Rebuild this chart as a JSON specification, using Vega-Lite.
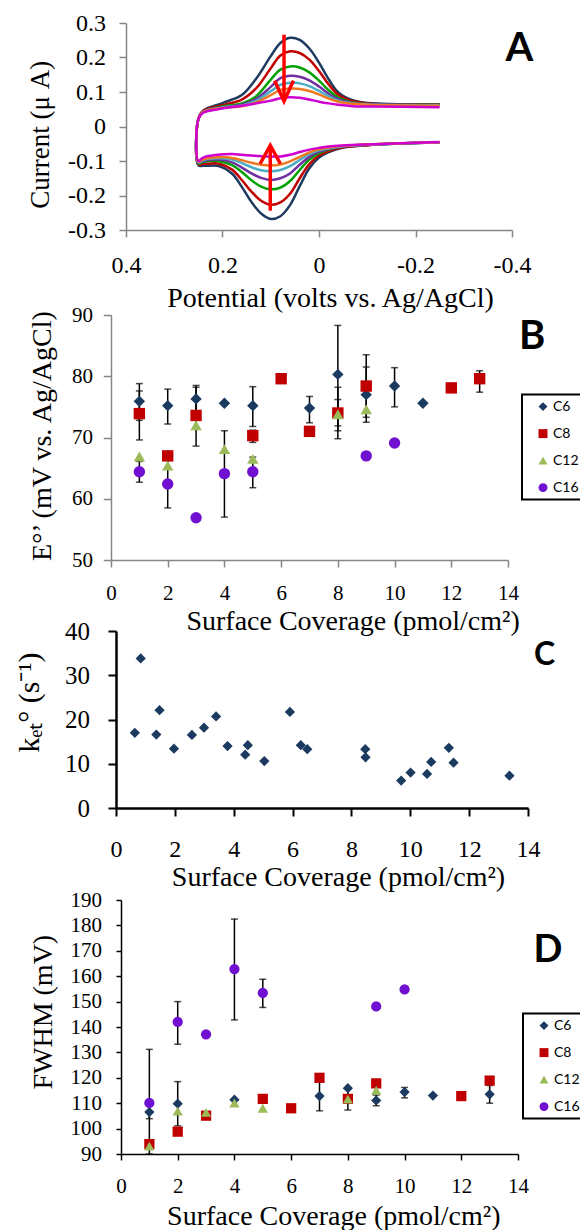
{
"$schema": "https://vega.github.io/schema/vega-lite/v6.json",
"background": "white",
"padding": {"left": 14, "top": 11, "right": 0, "bottom": 0},
"spacing": 71,
"bounds": "flush",
"config": {
  "view": {"stroke": null},
  "axis": {"grid": false, "labelFont": "Liberation Serif", "titleFont": "Liberation Serif", "labelColor": "#000", "titleColor": "#000", "titleFontWeight": "normal", "labelFlush": false, "labelOverlap": false, "titleBaseline": "middle", "titlePadding": 0},
  "legend": {"labelFont": "Lato", "labelFontSize": 14, "labelColor": "#000", "strokeColor": "#000", "strokeWidth": 2, "padding": 5, "rowPadding": 13, "symbolSize": 80, "symbolOffset": 9, "labelOffset": 3, "symbolStrokeWidth": 0}
},
"resolve": {"scale": {"x": "independent", "y": "independent", "color": "independent", "shape": "independent"}, "legend": {"color": "independent", "shape": "independent"}},
"datasets": {
"cv": [
{"c":"c1","o":1,"E":-0.25,"i":0.064},{"c":"c1","o":2,"E":-0.1,"i":0.068},{"c":"c1","o":3,"E":-0.07,"i":0.076},{"c":"c1","o":4,"E":-0.04,"i":0.099},{"c":"c1","o":5,"E":-0.02,"i":0.137},{"c":"c1","o":6,"E":0,"i":0.185},{"c":"c1","o":7,"E":0.02,"i":0.226},{"c":"c1","o":8,"E":0.04,"i":0.251},{"c":"c1","o":9,"E":0.06,"i":0.257},{"c":"c1","o":10,"E":0.08,"i":0.242},{"c":"c1","o":11,"E":0.1,"i":0.204},{"c":"c1","o":12,"E":0.13,"i":0.139},{"c":"c1","o":13,"E":0.16,"i":0.091},{"c":"c1","o":14,"E":0.2,"i":0.068},{"c":"c1","o":15,"E":0.24,"i":0.046},{"c":"c1","o":16,"E":0.25,"i":0.022},
{"c":"c1","o":17,"E":0.25,"i":-0.112},{"c":"c1","o":18,"E":0.24,"i":-0.114},{"c":"c1","o":19,"E":0.21,"i":-0.114},{"c":"c1","o":20,"E":0.18,"i":-0.137},{"c":"c1","o":21,"E":0.16,"i":-0.175},{"c":"c1","o":22,"E":0.14,"i":-0.219},{"c":"c1","o":23,"E":0.12,"i":-0.252},{"c":"c1","o":24,"E":0.1,"i":-0.268},{"c":"c1","o":25,"E":0.08,"i":-0.26},{"c":"c1","o":26,"E":0.06,"i":-0.228},{"c":"c1","o":27,"E":0.04,"i":-0.173},{"c":"c1","o":28,"E":0.02,"i":-0.121},{"c":"c1","o":29,"E":0,"i":-0.09},{"c":"c1","o":30,"E":-0.02,"i":-0.074},{"c":"c1","o":31,"E":-0.05,"i":-0.061},{"c":"c1","o":32,"E":-0.1,"i":-0.054},{"c":"c1","o":33,"E":-0.25,"i":-0.046},
{"c":"c2","o":1,"E":-0.25,"i":0.064},{"c":"c2","o":2,"E":-0.1,"i":0.067},{"c":"c2","o":3,"E":-0.07,"i":0.073},{"c":"c2","o":4,"E":-0.04,"i":0.092},{"c":"c2","o":5,"E":-0.02,"i":0.122},{"c":"c2","o":6,"E":0,"i":0.161},{"c":"c2","o":7,"E":0.02,"i":0.194},{"c":"c2","o":8,"E":0.04,"i":0.213},{"c":"c2","o":9,"E":0.06,"i":0.218},{"c":"c2","o":10,"E":0.08,"i":0.206},{"c":"c2","o":11,"E":0.1,"i":0.169},{"c":"c2","o":12,"E":0.13,"i":0.111},{"c":"c2","o":13,"E":0.16,"i":0.078},{"c":"c2","o":14,"E":0.2,"i":0.062},{"c":"c2","o":15,"E":0.24,"i":0.045},{"c":"c2","o":16,"E":0.25,"i":0.022},
{"c":"c2","o":17,"E":0.25,"i":-0.11},{"c":"c2","o":18,"E":0.24,"i":-0.109},{"c":"c2","o":19,"E":0.21,"i":-0.107},{"c":"c2","o":20,"E":0.18,"i":-0.125},{"c":"c2","o":21,"E":0.16,"i":-0.155},{"c":"c2","o":22,"E":0.14,"i":-0.189},{"c":"c2","o":23,"E":0.12,"i":-0.215},{"c":"c2","o":24,"E":0.1,"i":-0.227},{"c":"c2","o":25,"E":0.08,"i":-0.22},{"c":"c2","o":26,"E":0.06,"i":-0.195},{"c":"c2","o":27,"E":0.04,"i":-0.15},{"c":"c2","o":28,"E":0.02,"i":-0.109},{"c":"c2","o":29,"E":0,"i":-0.084},{"c":"c2","o":30,"E":-0.02,"i":-0.071},{"c":"c2","o":31,"E":-0.05,"i":-0.06},{"c":"c2","o":32,"E":-0.1,"i":-0.054},{"c":"c2","o":33,"E":-0.25,"i":-0.046},
{"c":"c3","o":1,"E":-0.25,"i":0.063},{"c":"c3","o":2,"E":-0.1,"i":0.065},{"c":"c3","o":3,"E":-0.07,"i":0.07},{"c":"c3","o":4,"E":-0.04,"i":0.084},{"c":"c3","o":5,"E":-0.02,"i":0.105},{"c":"c3","o":6,"E":0,"i":0.133},{"c":"c3","o":7,"E":0.02,"i":0.157},{"c":"c3","o":8,"E":0.04,"i":0.171},{"c":"c3","o":9,"E":0.06,"i":0.174},{"c":"c3","o":10,"E":0.08,"i":0.165},{"c":"c3","o":11,"E":0.1,"i":0.136},{"c":"c3","o":12,"E":0.13,"i":0.088},{"c":"c3","o":13,"E":0.16,"i":0.067},{"c":"c3","o":14,"E":0.2,"i":0.058},{"c":"c3","o":15,"E":0.24,"i":0.043},{"c":"c3","o":16,"E":0.25,"i":0.022},
{"c":"c3","o":17,"E":0.25,"i":-0.108},{"c":"c3","o":18,"E":0.24,"i":-0.103},{"c":"c3","o":19,"E":0.21,"i":-0.1},{"c":"c3","o":20,"E":0.18,"i":-0.112},{"c":"c3","o":21,"E":0.16,"i":-0.132},{"c":"c3","o":22,"E":0.14,"i":-0.156},{"c":"c3","o":23,"E":0.12,"i":-0.174},{"c":"c3","o":24,"E":0.1,"i":-0.182},{"c":"c3","o":25,"E":0.08,"i":-0.177},{"c":"c3","o":26,"E":0.06,"i":-0.158},{"c":"c3","o":27,"E":0.04,"i":-0.126},{"c":"c3","o":28,"E":0.02,"i":-0.096},{"c":"c3","o":29,"E":0,"i":-0.077},{"c":"c3","o":30,"E":-0.02,"i":-0.067},{"c":"c3","o":31,"E":-0.05,"i":-0.058},{"c":"c3","o":32,"E":-0.1,"i":-0.053},{"c":"c3","o":33,"E":-0.25,"i":-0.046},
{"c":"c4","o":1,"E":-0.25,"i":0.062},{"c":"c4","o":2,"E":-0.1,"i":0.065},{"c":"c4","o":3,"E":-0.07,"i":0.068},{"c":"c4","o":4,"E":-0.04,"i":0.079},{"c":"c4","o":5,"E":-0.02,"i":0.095},{"c":"c4","o":6,"E":0,"i":0.116},{"c":"c4","o":7,"E":0.02,"i":0.134},{"c":"c4","o":8,"E":0.04,"i":0.144},{"c":"c4","o":9,"E":0.06,"i":0.147},{"c":"c4","o":10,"E":0.08,"i":0.14},{"c":"c4","o":11,"E":0.1,"i":0.115},{"c":"c4","o":12,"E":0.13,"i":0.08},{"c":"c4","o":13,"E":0.16,"i":0.063},{"c":"c4","o":14,"E":0.2,"i":0.056},{"c":"c4","o":15,"E":0.24,"i":0.043},{"c":"c4","o":16,"E":0.25,"i":0.022},
{"c":"c4","o":17,"E":0.25,"i":-0.106},{"c":"c4","o":18,"E":0.24,"i":-0.1},{"c":"c4","o":19,"E":0.21,"i":-0.096},{"c":"c4","o":20,"E":0.18,"i":-0.104},{"c":"c4","o":21,"E":0.16,"i":-0.119},{"c":"c4","o":22,"E":0.14,"i":-0.136},{"c":"c4","o":23,"E":0.12,"i":-0.149},{"c":"c4","o":24,"E":0.1,"i":-0.155},{"c":"c4","o":25,"E":0.08,"i":-0.15},{"c":"c4","o":26,"E":0.06,"i":-0.136},{"c":"c4","o":27,"E":0.04,"i":-0.111},{"c":"c4","o":28,"E":0.02,"i":-0.088},{"c":"c4","o":29,"E":0,"i":-0.073},{"c":"c4","o":30,"E":-0.02,"i":-0.065},{"c":"c4","o":31,"E":-0.05,"i":-0.058},{"c":"c4","o":32,"E":-0.1,"i":-0.053},{"c":"c4","o":33,"E":-0.25,"i":-0.046},
{"c":"c5","o":1,"E":-0.25,"i":0.061},{"c":"c5","o":2,"E":-0.1,"i":0.064},{"c":"c5","o":3,"E":-0.07,"i":0.067},{"c":"c5","o":4,"E":-0.04,"i":0.075},{"c":"c5","o":5,"E":-0.02,"i":0.088},{"c":"c5","o":6,"E":0,"i":0.103},{"c":"c5","o":7,"E":0.02,"i":0.117},{"c":"c5","o":8,"E":0.04,"i":0.125},{"c":"c5","o":9,"E":0.06,"i":0.127},{"c":"c5","o":10,"E":0.08,"i":0.121},{"c":"c5","o":11,"E":0.1,"i":0.102},{"c":"c5","o":12,"E":0.13,"i":0.075},{"c":"c5","o":13,"E":0.16,"i":0.061},{"c":"c5","o":14,"E":0.2,"i":0.055},{"c":"c5","o":15,"E":0.24,"i":0.042},{"c":"c5","o":16,"E":0.25,"i":0.022},
{"c":"c5","o":17,"E":0.25,"i":-0.104},{"c":"c5","o":18,"E":0.24,"i":-0.097},{"c":"c5","o":19,"E":0.21,"i":-0.092},{"c":"c5","o":20,"E":0.18,"i":-0.096},{"c":"c5","o":21,"E":0.16,"i":-0.106},{"c":"c5","o":22,"E":0.14,"i":-0.118},{"c":"c5","o":23,"E":0.12,"i":-0.127},{"c":"c5","o":24,"E":0.1,"i":-0.13},{"c":"c5","o":25,"E":0.08,"i":-0.126},{"c":"c5","o":26,"E":0.06,"i":-0.115},{"c":"c5","o":27,"E":0.04,"i":-0.097},{"c":"c5","o":28,"E":0.02,"i":-0.08},{"c":"c5","o":29,"E":0,"i":-0.069},{"c":"c5","o":30,"E":-0.02,"i":-0.063},{"c":"c5","o":31,"E":-0.05,"i":-0.057},{"c":"c5","o":32,"E":-0.1,"i":-0.053},{"c":"c5","o":33,"E":-0.25,"i":-0.046},
{"c":"c6","o":1,"E":-0.25,"i":0.06},{"c":"c6","o":2,"E":-0.1,"i":0.063},{"c":"c6","o":3,"E":-0.07,"i":0.066},{"c":"c6","o":4,"E":-0.04,"i":0.072},{"c":"c6","o":5,"E":-0.02,"i":0.081},{"c":"c6","o":6,"E":0,"i":0.093},{"c":"c6","o":7,"E":0.02,"i":0.103},{"c":"c6","o":8,"E":0.04,"i":0.109},{"c":"c6","o":9,"E":0.06,"i":0.11},{"c":"c6","o":10,"E":0.08,"i":0.106},{"c":"c6","o":11,"E":0.1,"i":0.091},{"c":"c6","o":12,"E":0.13,"i":0.07},{"c":"c6","o":13,"E":0.16,"i":0.059},{"c":"c6","o":14,"E":0.2,"i":0.054},{"c":"c6","o":15,"E":0.24,"i":0.042},{"c":"c6","o":16,"E":0.25,"i":0.022},
{"c":"c6","o":17,"E":0.25,"i":-0.102},{"c":"c6","o":18,"E":0.24,"i":-0.095},{"c":"c6","o":19,"E":0.21,"i":-0.089},{"c":"c6","o":20,"E":0.18,"i":-0.091},{"c":"c6","o":21,"E":0.16,"i":-0.098},{"c":"c6","o":22,"E":0.14,"i":-0.105},{"c":"c6","o":23,"E":0.12,"i":-0.111},{"c":"c6","o":24,"E":0.1,"i":-0.113},{"c":"c6","o":25,"E":0.08,"i":-0.11},{"c":"c6","o":26,"E":0.06,"i":-0.101},{"c":"c6","o":27,"E":0.04,"i":-0.088},{"c":"c6","o":28,"E":0.02,"i":-0.075},{"c":"c6","o":29,"E":0,"i":-0.066},{"c":"c6","o":30,"E":-0.02,"i":-0.061},{"c":"c6","o":31,"E":-0.05,"i":-0.056},{"c":"c6","o":32,"E":-0.1,"i":-0.052},{"c":"c6","o":33,"E":-0.25,"i":-0.046},
{"c":"c7","o":1,"E":-0.25,"i":0.056},{"c":"c7","o":2,"E":-0.1,"i":0.058},{"c":"c7","o":3,"E":-0.07,"i":0.059},{"c":"c7","o":4,"E":-0.04,"i":0.063},{"c":"c7","o":5,"E":-0.02,"i":0.067},{"c":"c7","o":6,"E":0,"i":0.072},{"c":"c7","o":7,"E":0.02,"i":0.078},{"c":"c7","o":8,"E":0.04,"i":0.083},{"c":"c7","o":9,"E":0.06,"i":0.085},{"c":"c7","o":10,"E":0.08,"i":0.082},{"c":"c7","o":11,"E":0.1,"i":0.075},{"c":"c7","o":12,"E":0.13,"i":0.067},{"c":"c7","o":13,"E":0.16,"i":0.06},{"c":"c7","o":14,"E":0.2,"i":0.052},{"c":"c7","o":15,"E":0.24,"i":0.04},{"c":"c7","o":16,"E":0.25,"i":0.022},
{"c":"c7","o":17,"E":0.25,"i":-0.1},{"c":"c7","o":18,"E":0.24,"i":-0.09},{"c":"c7","o":19,"E":0.21,"i":-0.082},{"c":"c7","o":20,"E":0.18,"i":-0.08},{"c":"c7","o":21,"E":0.16,"i":-0.082},{"c":"c7","o":22,"E":0.14,"i":-0.084},{"c":"c7","o":23,"E":0.12,"i":-0.086},{"c":"c7","o":24,"E":0.1,"i":-0.087},{"c":"c7","o":25,"E":0.08,"i":-0.087},{"c":"c7","o":26,"E":0.06,"i":-0.082},{"c":"c7","o":27,"E":0.04,"i":-0.074},{"c":"c7","o":28,"E":0.02,"i":-0.067},{"c":"c7","o":29,"E":0,"i":-0.062},{"c":"c7","o":30,"E":-0.02,"i":-0.058},{"c":"c7","o":31,"E":-0.05,"i":-0.055},{"c":"c7","o":32,"E":-0.1,"i":-0.052},{"c":"c7","o":33,"E":-0.25,"i":-0.045}
],
"arr": [
{"a":"d1","o":1,"E":0.0725,"i":0.266},{"a":"d1","o":2,"E":0.0725,"i":0.078},
{"a":"d2","o":1,"E":0.092,"i":0.133},{"a":"d2","o":2,"E":0.0725,"i":0.073},{"a":"d2","o":3,"E":0.053,"i":0.133},
{"a":"u1","o":1,"E":0.101,"i":-0.244},{"a":"u1","o":2,"E":0.101,"i":-0.058},
{"a":"u2","o":1,"E":0.122,"i":-0.108},{"a":"u2","o":2,"E":0.101,"i":-0.055},{"a":"u2","o":3,"E":0.08,"i":-0.108}
],
"b": [
{"s":"C6","x":1,"y":75.9},{"s":"C6","x":2,"y":75.2},{"s":"C6","x":3,"y":76.3},{"s":"C6","x":4,"y":75.6},{"s":"C6","x":5,"y":75.2},{"s":"C6","x":7,"y":74.8},{"s":"C6","x":8,"y":80.3},{"s":"C6","x":9,"y":77.0},{"s":"C6","x":10,"y":78.4},{"s":"C6","x":11,"y":75.6},
{"s":"C8","x":1,"y":73.9},{"s":"C8","x":2,"y":67.0},{"s":"C8","x":3,"y":73.6},{"s":"C8","x":5,"y":70.3},{"s":"C8","x":6,"y":79.6},{"s":"C8","x":7,"y":71.0},{"s":"C8","x":8,"y":74.0},{"s":"C8","x":9,"y":78.4},{"s":"C8","x":12,"y":78.1},{"s":"C8","x":13,"y":79.6},
{"s":"C12","x":1,"y":66.9},{"s":"C12","x":2,"y":65.4},{"s":"C12","x":3,"y":72.0},{"s":"C12","x":4,"y":68.1},{"s":"C12","x":5,"y":66.5},{"s":"C12","x":8,"y":73.8},{"s":"C12","x":9,"y":74.6},
{"s":"C16","x":1,"y":64.4},{"s":"C16","x":2,"y":62.4},{"s":"C16","x":3,"y":56.9},{"s":"C16","x":4,"y":64.1},{"s":"C16","x":5,"y":64.4},{"s":"C16","x":9,"y":67.0},{"s":"C16","x":10,"y":69.1}
],
"berr": [
{"s":"C6","x":1,"lo":72.8,"hi":78.8},{"s":"C6","x":2,"lo":72.2,"hi":77.9},{"s":"C6","x":3,"lo":74.3,"hi":78.2},{"s":"C6","x":5,"lo":71.8,"hi":78.3},{"s":"C6","x":7,"lo":72.4,"hi":76.7},{"s":"C6","x":8,"lo":71.9,"hi":88.3},{"s":"C6","x":9,"lo":72.5,"hi":81.5},{"s":"C6","x":10,"lo":75.0,"hi":81.4},
{"s":"C8","x":1,"lo":69.6,"hi":77.6},{"s":"C8","x":3,"lo":68.6,"hi":78.5},{"s":"C8","x":5,"lo":69.2,"hi":71.2},{"s":"C8","x":8,"lo":69.8,"hi":78.2},{"s":"C8","x":9,"lo":73.3,"hi":83.5},{"s":"C8","x":13,"lo":77.4,"hi":80.9},
{"s":"C12","x":8,"lo":71.1,"hi":76.2},
{"s":"C16","x":1,"lo":62.7,"hi":66.1},{"s":"C16","x":2,"lo":58.5,"hi":66.3},{"s":"C16","x":4,"lo":57.0,"hi":71.1},{"s":"C16","x":5,"lo":61.8,"hi":66.8}
],
"c": [
{"x":0.64,"y":17.0},{"x":0.84,"y":33.8},{"x":1.37,"y":16.6},{"x":1.48,"y":22.1},{"x":1.97,"y":13.4},{"x":2.58,"y":16.5},{"x":2.99,"y":18.15},{"x":3.4,"y":20.7},{"x":3.79,"y":14.0},{"x":4.39,"y":12.05},{"x":4.48,"y":14.2},{"x":5.04,"y":10.6},{"x":5.91,"y":21.7},{"x":6.28,"y":14.2},{"x":6.5,"y":13.3},{"x":8.47,"y":13.3},{"x":8.48,"y":11.45},{"x":9.69,"y":6.2},{"x":10.01,"y":8.0},{"x":10.57,"y":7.7},{"x":10.71,"y":10.4},{"x":11.31,"y":13.6},{"x":11.47,"y":10.25},{"x":13.37,"y":7.3}
],
"d": [
{"s":"C6","x":1,"y":106.5},{"s":"C6","x":2,"y":109.8},{"s":"C6","x":4,"y":111.4},{"s":"C6","x":5,"y":111.5},{"s":"C6","x":7,"y":112.8},{"s":"C6","x":8,"y":115.9},{"s":"C6","x":9,"y":111.1},{"s":"C6","x":10,"y":114.4},{"s":"C6","x":11,"y":113.0},{"s":"C6","x":13,"y":113.5},
{"s":"C8","x":1,"y":93.9},{"s":"C8","x":2,"y":98.8},{"s":"C8","x":3,"y":105.1},{"s":"C8","x":5,"y":111.7},{"s":"C8","x":6,"y":108.0},{"s":"C8","x":7,"y":120.0},{"s":"C8","x":8,"y":111.7},{"s":"C8","x":9,"y":117.8},{"s":"C8","x":12,"y":112.8},{"s":"C8","x":13,"y":118.9},
{"s":"C12","x":1,"y":93.1},{"s":"C12","x":2,"y":106.9},{"s":"C12","x":3,"y":106.4},{"s":"C12","x":4,"y":110.1},{"s":"C12","x":5,"y":108.0},{"s":"C12","x":8,"y":111.6},{"s":"C12","x":9,"y":115.1},
{"s":"C16","x":1,"y":110.1},{"s":"C16","x":2,"y":142.0},{"s":"C16","x":3,"y":137.1},{"s":"C16","x":4,"y":162.8},{"s":"C16","x":5,"y":153.4},{"s":"C16","x":9,"y":148.1},{"s":"C16","x":10,"y":154.8}
],
"derr": [
{"s":"C6","x":1,"lo":103.9,"hi":109.1},{"s":"C6","x":2,"lo":101.1,"hi":118.5},{"s":"C6","x":7,"lo":107.0,"hi":119.1},{"s":"C6","x":9,"lo":109.0,"hi":113.2},{"s":"C6","x":10,"lo":112.1,"hi":116.2},{"s":"C6","x":13,"lo":110.0,"hi":117.0},
{"s":"C8","x":8,"lo":107.3,"hi":116.1},
{"s":"C16","x":1,"lo":90,"hi":131.2},{"s":"C16","x":2,"lo":133.2,"hi":150.0},{"s":"C16","x":4,"lo":142.8,"hi":182.5},{"s":"C16","x":5,"lo":147.7,"hi":158.8}
]
},
"vconcat": [
{
"width": 401, "height": 207,
"layer": [
{"data": {"name": "cv"},
 "mark": {"type": "line", "strokeWidth": 2.5, "interpolate": "catmull-rom"},
 "encoding": {
  "x": {"field": "E", "type": "quantitative", "scale": {"domain": [0.4, -0.4], "range": [15, 401], "nice": false, "zero": false},
   "axis": {"values": [0.4, 0.2, 0, -0.2, -0.4], "tickCount": 50, "labelExpr": "replace(format(datum.value, '~g'), '−', '-')", "labelOverlap": false, "labelFlush": false, "title": "Potential (volts vs. Ag/AgCl)", "titleFontSize": 28, "titleX": 219, "titleY": 68.7, "labelFontSize": 24, "labelBaseline": "middle", "labelPadding": 28.7, "tickSize": 7, "domainColor": "#868686", "tickColor": "#868686", "domainWidth": 1.5, "tickWidth": 1.5}},
  "y": {"field": "i", "type": "quantitative", "scale": {"domain": [-0.3, 0.3], "nice": false, "zero": false},
   "axis": {"values": [-0.3, -0.2, -0.1, 0, 0.1, 0.2, 0.3], "tickCount": 50, "labelExpr": "replace(format(datum.value, '~g'), '−', '-')", "labelOverlap": false, "labelFlush": false, "title": "Current (μ A)", "titleFontSize": 27, "titleX": -85.3, "titleY": 111.3, "labelFontSize": 24, "labelPadding": 13.6, "tickSize": 7, "offset": -15, "domainColor": "#868686", "tickColor": "#868686", "domainWidth": 1.5, "tickWidth": 1.5}},
  "color": {"field": "c", "type": "nominal", "scale": {"domain": ["c1","c2","c3","c4","c5","c6","c7"], "range": ["#1F3A60","#C00000","#00A000","#7030A0","#4BACC6","#F07820","#D000D0"]}, "legend": null},
  "order": {"field": "o", "type": "quantitative"}
 }},
{"data": {"name": "arr"},
 "mark": {"type": "line", "color": "#FF0000", "strokeWidth": 3.5},
 "encoding": {
  "x": {"field": "E", "type": "quantitative", "scale": {"domain": [0.4, -0.4], "range": [15, 401], "nice": false, "zero": false}},
  "y": {"field": "i", "type": "quantitative", "scale": {"domain": [-0.3, 0.3], "nice": false, "zero": false}},
  "detail": {"field": "a", "type": "nominal"},
  "order": {"field": "o", "type": "quantitative"}
 }},
{"data": {"values": [{"t": "A"}]},
 "mark": {"type": "text", "font": "Lato", "fontWeight": "bold", "fontSize": 40, "align": "center", "baseline": "middle", "color": "#000"},
 "encoding": {
  "x": {"datum": -0.4155, "type": "quantitative", "scale": {"domain": [0.4, -0.4], "range": [15, 401], "nice": false, "zero": false}},
  "y": {"datum": 0.225, "type": "quantitative", "scale": {"domain": [-0.3, 0.3], "nice": false, "zero": false}},
  "text": {"field": "t"}
 }}
]
},
{
"width": 397, "height": 259,
"layer": [
{"data": {"name": "berr"},
 "mark": {"type": "rule", "color": "#000", "strokeWidth": 1.5},
 "encoding": {
  "x": {"field": "x", "type": "quantitative", "scale": {"domain": [0, 14], "nice": false, "zero": false},
   "axis": {"values": [0,2,4,6,8,10,12,14], "tickCount": 50, "format": "d", "labelOverlap": false, "labelFlush": false, "title": "Surface Coverage (pmol/cm²)", "titleFontSize": 28, "titleX": 241.6, "titleY": 61.4, "labelFontSize": 21, "labelBaseline": "middle", "labelPadding": 26.7, "tickSize": 7, "domainColor": "#868686", "tickColor": "#868686", "domainWidth": 1.5, "tickWidth": 1.5}},
  "y": {"field": "lo", "type": "quantitative", "scale": {"domain": [50, 90], "range": [259, 14], "nice": false, "zero": false},
   "axis": {"values": [50,60,70,80,90], "tickCount": 50, "format": "d", "labelOverlap": false, "labelFlush": false, "title": "E°’ (mV vs. Ag/AgCl)", "titleFontSize": 28, "titleX": -68.4, "titleY": 134.6, "labelFontSize": 21, "labelPadding": 10.7, "tickSize": 7.7, "domainColor": "#868686", "tickColor": "#868686", "domainWidth": 1.5, "tickWidth": 1.5}},
  "y2": {"field": "hi"}
 }},
{"data": {"name": "berr"},
 "mark": {"type": "tick", "orient": "horizontal", "size": 7, "thickness": 1.5, "color": "#000"},
 "encoding": {
  "x": {"field": "x", "type": "quantitative", "scale": {"domain": [0, 14], "nice": false, "zero": false}},
  "y": {"field": "lo", "type": "quantitative", "scale": {"domain": [50, 90], "range": [259, 14], "nice": false, "zero": false}}
 }},
{"data": {"name": "berr"},
 "mark": {"type": "tick", "orient": "horizontal", "size": 7, "thickness": 1.5, "color": "#000"},
 "encoding": {
  "x": {"field": "x", "type": "quantitative", "scale": {"domain": [0, 14], "nice": false, "zero": false}},
  "y": {"field": "hi", "type": "quantitative", "scale": {"domain": [50, 90], "range": [259, 14], "nice": false, "zero": false}}
 }},
{"data": {"name": "b"},
 "mark": {"type": "point", "filled": true, "opacity": 1, "size": 130},
 "encoding": {
  "x": {"field": "x", "type": "quantitative", "scale": {"domain": [0, 14], "nice": false, "zero": false}},
  "y": {"field": "y", "type": "quantitative", "scale": {"domain": [50, 90], "range": [259, 14], "nice": false, "zero": false}},
  "color": {"field": "s", "type": "nominal", "scale": {"domain": ["C6","C8","C12","C16"], "range": ["#1A3A60","#C00000","#9BBB59","#7010D0"]},
   "legend": {"title": null, "orient": "none", "legendX": 411, "legendY": 93.6, "labelExpr": "datum.label + '     '"}},
  "shape": {"field": "s", "type": "nominal", "scale": {"domain": ["C6","C8","C12","C16"], "range": ["diamond","square","triangle-up","circle"]},
   "legend": {"title": null, "orient": "none", "legendX": 411, "legendY": 93.6, "labelExpr": "datum.label + '     '"}}
 }},
{"data": {"values": [{"t": "B"}]},
 "mark": {"type": "text", "font": "Lato", "fontWeight": "bold", "fontSize": 40, "align": "center", "baseline": "middle", "color": "#000"},
 "encoding": {
  "x": {"datum": 14.85, "type": "quantitative", "scale": {"domain": [0, 14], "nice": false, "zero": false}},
  "y": {"datum": 86.4, "type": "quantitative", "scale": {"domain": [50, 90], "range": [259, 14], "nice": false, "zero": false}},
  "text": {"field": "t"}
 }}
]
},
{
"width": 417, "height": 177,
"layer": [
{"data": {"name": "c"},
 "mark": {"type": "point", "filled": true, "opacity": 1, "size": 105, "shape": "diamond", "color": "#1A3A60"},
 "encoding": {
  "x": {"field": "x", "type": "quantitative", "scale": {"domain": [0, 14], "range": [5, 417], "nice": false, "zero": false},
   "axis": {"values": [0,2,4,6,8,10,12,14], "tickCount": 50, "format": "d", "labelOverlap": false, "labelFlush": false, "title": "Surface Coverage (pmol/cm²)", "titleFontSize": 28, "titleX": 227, "titleY": 69.5, "labelFontSize": 24, "labelBaseline": "middle", "labelPadding": 33.8, "tickSize": 8, "domainColor": "#000", "tickColor": "#000", "domainWidth": 2.5, "tickWidth": 2}},
  "y": {"field": "y", "type": "quantitative", "scale": {"domain": [0, 40], "nice": false, "zero": false},
   "axis": {"values": [0,10,20,30,40], "tickCount": 50, "format": "d", "labelOverlap": false, "labelFlush": false, "title": "kₑₜ° (s⁻¹)", "titleFontSize": 30, "titleX": -86.6, "titleY": 71, "labelFontSize": 25, "labelPadding": 18.6, "tickSize": 8, "offset": -5, "domainColor": "#000", "tickColor": "#000", "domainWidth": 2.5, "tickWidth": 2}}
 }},
{"data": {"values": [{"t": "C"}]},
 "mark": {"type": "text", "font": "Lato", "fontWeight": "bold", "fontSize": 32, "align": "center", "baseline": "middle", "color": "#000"},
 "encoding": {
  "x": {"datum": 14.56, "type": "quantitative", "scale": {"domain": [0, 14], "range": [5, 417], "nice": false, "zero": false}},
  "y": {"datum": 34.6, "type": "quantitative", "scale": {"domain": [0, 40], "nice": false, "zero": false}},
  "text": {"field": "t"}
 }}
]
},
{
"width": 407, "height": 275,
"layer": [
{"data": {"name": "derr"},
 "mark": {"type": "rule", "color": "#000", "strokeWidth": 1.5},
 "encoding": {
  "x": {"field": "x", "type": "quantitative", "scale": {"domain": [0, 14], "range": [10, 407], "nice": false, "zero": false},
   "axis": {"values": [0,2,4,6,8,10,12,14], "tickCount": 50, "format": "d", "labelOverlap": false, "labelFlush": false, "title": "Surface Coverage (pmol/cm²)", "titleFontSize": 28, "titleX": 222.3, "titleY": 62, "labelFontSize": 21, "labelBaseline": "middle", "labelPadding": 26.7, "tickSize": 6, "domainColor": "#000", "tickColor": "#000", "domainWidth": 1.5, "tickWidth": 1.5}},
  "y": {"field": "lo", "type": "quantitative", "scale": {"domain": [90, 190], "range": [275, 21], "nice": false, "zero": false},
   "axis": {"values": [90,100,110,120,130,140,150,160,170,180,190], "tickCount": 50, "format": "d", "labelOverlap": false, "labelFlush": false, "title": "FWHM (mV)", "titleFontSize": 28, "titleX": -78, "titleY": 132.7, "labelFontSize": 21, "labelPadding": 14.6, "tickSize": 5, "offset": -10, "domainColor": "#000", "tickColor": "#000", "domainWidth": 1.5, "tickWidth": 1.5}},
  "y2": {"field": "hi"}
 }},
{"data": {"name": "derr"},
 "mark": {"type": "tick", "orient": "horizontal", "size": 7, "thickness": 1.5, "color": "#000"},
 "encoding": {
  "x": {"field": "x", "type": "quantitative", "scale": {"domain": [0, 14], "range": [10, 407], "nice": false, "zero": false}},
  "y": {"field": "lo", "type": "quantitative", "scale": {"domain": [90, 190], "range": [275, 21], "nice": false, "zero": false}}
 }},
{"data": {"name": "derr"},
 "mark": {"type": "tick", "orient": "horizontal", "size": 7, "thickness": 1.5, "color": "#000"},
 "encoding": {
  "x": {"field": "x", "type": "quantitative", "scale": {"domain": [0, 14], "range": [10, 407], "nice": false, "zero": false}},
  "y": {"field": "hi", "type": "quantitative", "scale": {"domain": [90, 190], "range": [275, 21], "nice": false, "zero": false}}
 }},
{"data": {"name": "d"},
 "mark": {"type": "point", "filled": true, "opacity": 1, "size": 105},
 "encoding": {
  "x": {"field": "x", "type": "quantitative", "scale": {"domain": [0, 14], "range": [10, 407], "nice": false, "zero": false}},
  "y": {"field": "y", "type": "quantitative", "scale": {"domain": [90, 190], "range": [275, 21], "nice": false, "zero": false}},
  "color": {"field": "s", "type": "nominal", "scale": {"domain": ["C6","C8","C12","C16"], "range": ["#1A3A60","#C00000","#9BBB59","#7010D0"]},
   "legend": {"title": null, "orient": "none", "legendX": 412, "legendY": 134.6, "labelExpr": "datum.label + '     '"}},
  "shape": {"field": "s", "type": "nominal", "scale": {"domain": ["C6","C8","C12","C16"], "range": ["diamond","square","triangle-up","circle"]},
   "legend": {"title": null, "orient": "none", "legendX": 412, "legendY": 134.6, "labelExpr": "datum.label + '     '"}}
 }},
{"data": {"values": [{"t": "D"}]},
 "mark": {"type": "text", "font": "Lato", "fontWeight": "bold", "fontSize": 38, "align": "center", "baseline": "middle", "color": "#000"},
 "encoding": {
  "x": {"datum": 15.06, "type": "quantitative", "scale": {"domain": [0, 14], "range": [10, 407], "nice": false, "zero": false}},
  "y": {"datum": 170.0, "type": "quantitative", "scale": {"domain": [90, 190], "range": [275, 21], "nice": false, "zero": false}},
  "text": {"field": "t"}
 }}
]
}
]
}
